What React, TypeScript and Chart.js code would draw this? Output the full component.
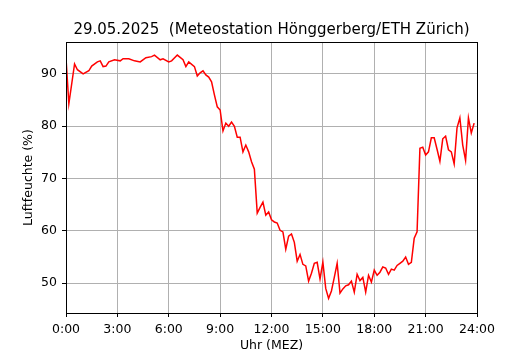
import { useEffect, useRef } from "react";
import { Chart, registerables } from "chart.js";

Chart.register(...registerables);

const TITLE = "29.05.2025  (Meteostation Hönggerberg/ETH Zürich)";
const X_LABEL = "Uhr (MEZ)";
const Y_LABEL = "Luftfeuchte (%)";

// minutes after midnight
const timesMin = [
  0, 10, 30, 40, 60, 80, 90, 110, 120, 130, 140, 150, 170, 190, 200, 220, 240, 260, 280, 300,
  310, 330, 340, 360, 370, 390, 410, 420, 430, 450, 460, 470, 480, 490, 500, 510, 520, 530, 540, 550,
  560, 570, 580, 590, 600, 610, 620, 630, 640, 650, 660, 670, 680, 690, 700, 710, 720, 730, 740, 750,
  760, 770, 780, 790, 800, 810, 820, 830, 840, 850, 860, 870, 880, 890, 900, 910, 920, 930, 940, 950,
  960, 970, 980, 990, 1000, 1010, 1020, 1030, 1040, 1050, 1060, 1070, 1080, 1090, 1100, 1110, 1120, 1130, 1140, 1150,
  1160, 1170, 1180, 1190, 1200, 1210, 1220, 1230, 1240, 1250, 1260, 1270, 1280, 1290, 1300, 1310, 1320, 1330, 1340, 1350,
  1360, 1370, 1380, 1390, 1400, 1410, 1420, 1430,
];

// relative humidity (%)
const humidity = [
  93.0, 84.3, 91.9, 90.8, 90.0, 90.6, 91.5, 92.3, 92.5, 91.4, 91.5, 92.3, 92.7, 92.5, 92.9, 92.9, 92.5, 92.3, 93.1, 93.3,
  93.6, 92.7, 92.9, 92.3, 92.5, 93.6, 92.7, 91.4, 92.3, 91.4, 89.6, 90.2, 90.6, 89.8, 89.4, 88.5, 86.0, 83.7, 83.1, 79.1,
  80.6, 80.0, 80.8, 80.0, 77.9, 77.9, 75.1, 76.4, 75.1, 73.2, 71.8, 63.4, 64.5, 65.5, 63.0, 63.6, 62.1, 61.7, 61.5, 60.1,
  59.8, 56.5, 59.0, 59.4, 57.8, 54.2, 55.5, 53.6, 53.3, 50.4, 51.9, 53.8, 54.0, 50.8, 54.0, 49.0, 47.1, 48.5, 51.1, 53.8,
  48.1, 48.9, 49.5, 49.7, 50.4, 48.3, 51.7, 50.5, 51.1, 48.3, 51.5, 50.2, 52.5, 51.5, 52.1, 53.1, 52.9, 51.7, 52.7, 52.5,
  53.4, 53.8, 54.2, 55.0, 53.6, 54.0, 58.6, 59.8, 75.8, 76.0, 74.5, 75.1, 77.8, 77.8, 75.6, 73.3, 77.6, 78.1, 75.5, 75.1,
  72.8, 79.7, 81.6, 76.4, 73.5, 81.6, 78.7, 80.6,
];

const xTicks = [0, 180, 360, 540, 720, 900, 1080, 1260, 1440];
const yTicks = [50, 60, 70, 80, 90];

const FONT = "DejaVu Sans";

const fmtTime = (v: number) => `${Math.floor(v / 60)}:${String(Math.round(v % 60)).padStart(2, "0")}`;

const framePlugin = {
  id: "frameAndTitle",
  afterDraw(chart: any) {
    const { ctx, chartArea } = chart;
    const { left, right, top, bottom } = chartArea;
    ctx.save();
    ctx.strokeStyle = "#000";
    ctx.lineWidth = 1;
    ctx.strokeRect(left + 0.5, top + 0.5, right - left, bottom - top);
    ctx.fillStyle = "#000";
    ctx.font = `15px "${FONT}"`;
    ctx.textAlign = "center";
    ctx.textBaseline = "middle";
    ctx.fillText(TITLE, (left + right) / 2, 30.5);
    ctx.restore();
  },
};

export default function App() {
  const ref = useRef<HTMLCanvasElement | null>(null);

  useEffect(() => {
    if (!ref.current) return;
    const chart = new Chart(ref.current, {
      type: "line",
      data: {
        datasets: [
          {
            data: timesMin.map((t, i) => ({ x: t, y: humidity[i] })),
            borderColor: "#ff0000",
            borderWidth: 1.5,
            pointRadius: 0,
            tension: 0,
            fill: false,
          },
        ],
      },
      options: {
        animation: false,
        responsive: false,
        devicePixelRatio: 1,
        color: "#000",
        layout: { padding: { top: 42, right: 53, left: 0, bottom: 0 } },
        plugins: {
          legend: { display: false },
          tooltip: { enabled: false },
          title: { display: false },
        },
        scales: {
          x: {
            type: "linear",
            min: 0,
            max: 1440,
            afterFit: (s: any) => {
              s.height = 37;
            },
            afterBuildTicks: (s: any) => {
              s.ticks = xTicks.map((v) => ({ value: v }));
            },
            ticks: {
              color: "#000",
              padding: 5,
              maxRotation: 0,
              autoSkip: false,
              font: { family: FONT, size: 12.5 },
              callback: (v: any) => fmtTime(Number(v)),
            },
            grid: { color: "#b0b0b0", lineWidth: 1, tickColor: "#000", tickLength: 4, drawTicks: true },
            border: { display: true, color: "#000", width: 1 },
            title: {
              display: true,
              text: X_LABEL,
              color: "#000",
              font: { family: FONT, size: 12.5, lineHeight: 1 },
              padding: { top: 0, bottom: -1.5 },
            },
          },
          y: {
            type: "linear",
            min: 44.3,
            max: 96.1,
            afterFit: (s: any) => {
              s.width = 66;
            },
            afterBuildTicks: (s: any) => {
              s.ticks = yTicks.map((v) => ({ value: v }));
            },
            ticks: {
              color: "#000",
              padding: 5,
              font: { family: FONT, size: 12.5 },
              callback: (v: any) => String(v),
            },
            grid: { color: "#b0b0b0", lineWidth: 1, tickColor: "#000", tickLength: 4, drawTicks: true },
            border: { display: true, color: "#000", width: 1 },
            title: {
              display: true,
              text: Y_LABEL,
              color: "#000",
              font: { family: FONT, size: 12.5, lineHeight: 1 },
              padding: { top: 22, bottom: 0 },
            },
          },
        },
      },
      plugins: [framePlugin],
    });
    return () => chart.destroy();
  }, []);

  return (
    <div style={{ position: "absolute", left: 0, top: 0, width: 530, height: 350, background: "#fff" }}>
      <canvas ref={ref} width={530} height={350} style={{ display: "block" }} />
    </div>
  );
}
